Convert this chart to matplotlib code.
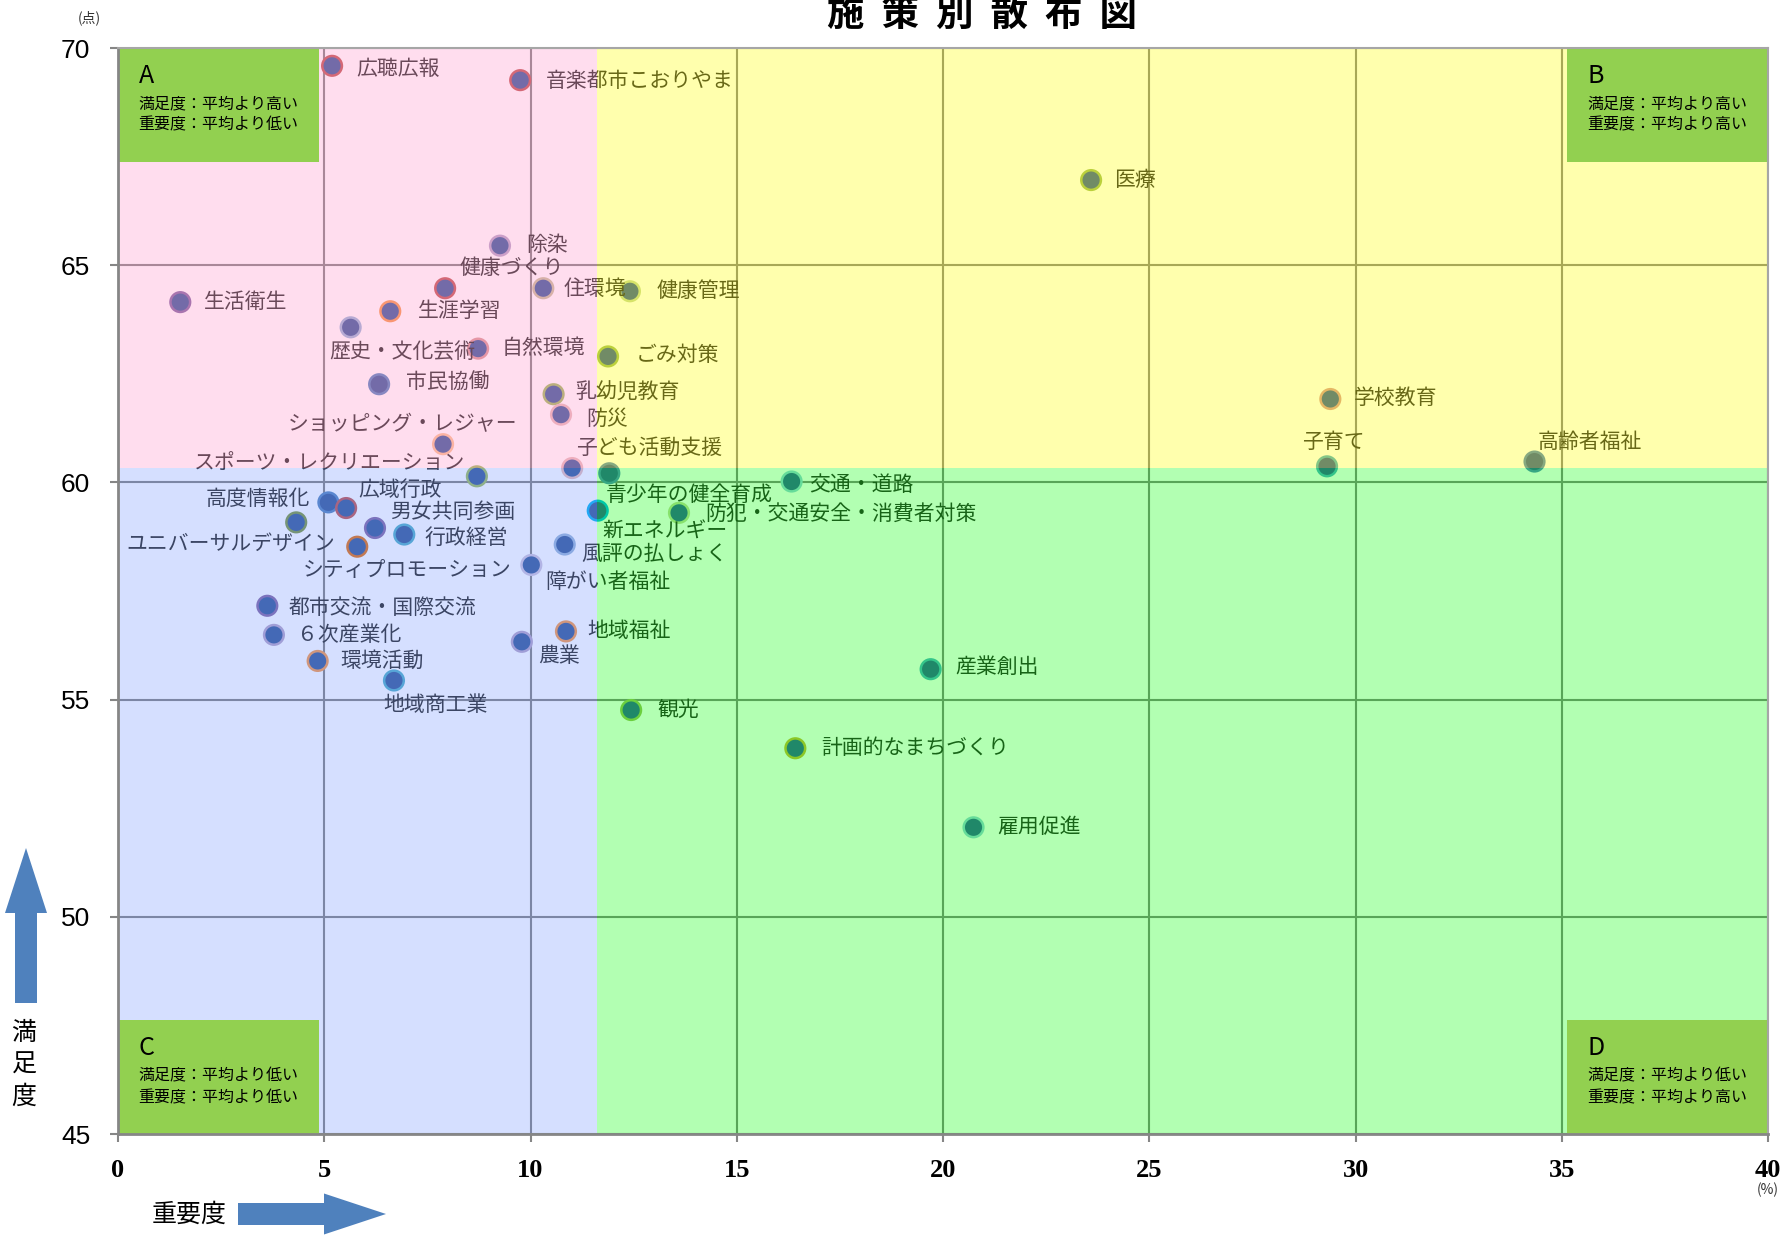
import matplotlib
matplotlib.use('Agg')
import matplotlib.pyplot as plt
from matplotlib.patches import Rectangle, FancyArrow
from matplotlib import font_manager

plt.rcParams['font.family'] = ['Noto Sans CJK JP', 'DejaVu Sans']

# 施策名・重要度(%)・満足度(点)
names = ['広聴広報', '音楽都市こおりやま', '医療', '除染', '健康づくり', '住環境', '健康管理',
         '生活衛生', '生涯学習', '歴史・文化芸術', '自然環境', 'ごみ対策', '市民協働', '乳幼児教育',
         '防災', 'ショッピング・レジャー', '子ども活動支援', 'スポーツ・レクリエーション',
         '青少年の健全育成', '交通・道路', '高度情報化', '広域行政', 'ユニバーサルデザイン',
         '男女共同参画', '行政経営', 'シティプロモーション', '風評の払しょく', '障がい者福祉',
         '新エネルギー', '防犯・交通安全・消費者対策', '都市交流・国際交流', '６次産業化', '環境活動',
         '地域商工業', '農業', '地域福祉', '産業創出', '観光', '計画的なまちづくり', '雇用促進',
         '学校教育', '子育て', '高齢者福祉']
importance = [5.19, 9.75, 23.59, 9.26, 7.93, 10.31, 12.41,
              1.51, 6.60, 5.64, 8.73, 11.88, 6.33, 10.56,
              10.74, 7.88, 11.01, 8.70,
              11.91, 16.33, 5.10, 5.53, 4.32,
              6.23, 6.94, 5.80, 10.83, 10.02,
              11.63, 13.60, 3.62, 3.78, 4.84,
              6.69, 9.79, 10.86, 19.70, 12.44, 16.42, 20.74,
              29.39, 29.31, 34.34]
satisfaction = [69.59, 69.26, 66.96, 65.45, 64.47, 64.47, 64.40,
                64.15, 63.94, 63.57, 63.08, 62.90, 62.26, 62.03,
                61.56, 60.88, 60.33, 60.14,
                60.21, 60.02, 59.54, 59.41, 59.08,
                58.95, 58.80, 58.52, 58.57, 58.10,
                59.35, 59.30, 57.16, 56.49, 55.89,
                55.44, 56.33, 56.57, 55.70, 54.76, 53.88, 52.06,
                61.92, 60.37, 60.48]

mean_imp = 11.6   # 重要度の平均
mean_sat = 60.33  # 満足度の平均

x_ticks = [0, 5, 10, 15, 20, 25, 30, 35, 40]
y_ticks = [45, 50, 55, 60, 65, 70]

quad_titles = ['A', 'B', 'C', 'D']
quad_notes = ['満足度：平均より高い\n重要度：平均より低い',
              '満足度：平均より高い\n重要度：平均より高い',
              '満足度：平均より低い\n重要度：平均より低い',
              '満足度：平均より低い\n重要度：平均より高い']

# マーカー枠の色
edge_colors = ['#C0504D', '#C0504D', '#9BBB59', '#B3A2C7', '#C0504D', '#C4BD97', '#C3D69B',
               '#8064A2', '#F79646', '#95B3D7', '#DA9694', '#9BBB59', '#4F81BD', '#9BBB59',
               '#E6B9B8', '#FAC090', '#E6B9B8', '#9BBB59',
               '#4F81BD', '#93CDDD', '#4F81BD', '#C0504D', '#77933C',
               '#8064A2', '#4BACC6', '#E46C0A', '#95B3D7', '#CCC1DA',
               '#00B0F0', '#C3D69B', '#8064A2', '#B3A2C7', '#F79646',
               '#4BACC6', '#B3A2C7', '#F79646', '#4BACC6', '#9BBB59', '#C9B037', '#93CDDD',
               '#D99694', '#4BACC6', '#4F81BD']

# ラベル位置 (px, 揃え)
label_pos = [(24, -3, 'left'), (26, -1, 'left'), (23, 0, 'left'), (26, 1, 'left'),
             (67, 20, 'center'), (20, -1, 'left'), (27, 0, 'left'),
             (24, 0, 'left'), (28, 0, 'left'), (52, -25, 'center'), (24, 1, 'left'),
             (28, 1, 'left'), (27, 2, 'left'), (22, 1, 'left'),
             (25, -4, 'left'), (-40, 20, 'center'), (4, 20, 'left'), (-12, 12, 'right'),
             (-4, -22, 'left'), (18, -3, 'left'), (-18, 3, 'right'), (12, 18, 'left'),
             (-65, -21, 'center'),
             (15, 16, 'left'), (20, -3, 'left'), (50, -23, 'center'), (17, -9, 'left'),
             (14, -17, 'left'),
             (5, -21, 'left'), (26, -1, 'left'), (21, -2, 'left'), (23, 0, 'left'),
             (23, 0, 'left'),
             (42, -24, 'center'), (16, -14, 'left'), (21, 0, 'left'), (25, 2, 'left'),
             (26, 0, 'left'), (26, 0, 'left'), (24, 0, 'left'),
             (23, 1, 'left'), (6, 24, 'center'), (3, 20, 'left')]


def pick_font(name, fallback='DejaVu Sans'):
    try:
        font_manager.findfont(name, fallback_to_default=False)
        return name
    except Exception:
        return fallback


narrow = pick_font('Liberation Sans Narrow', 'Liberation Sans')
serif = pick_font('Liberation Serif', 'DejaVu Serif')

W, H = 1786, 1235
fig = plt.figure(figsize=(W / 100, H / 100), dpi=100)
ax = fig.add_axes([118 / W, 1 - 1134 / H, 1650 / W, 1086 / H])
ax.set_xlim(0, 40)
ax.set_ylim(45, 70)

# グリッド
ax.set_xticks(x_ticks)
ax.set_yticks(y_ticks)
ax.grid(True, color='#7F7F7F', linewidth=1.5, zorder=0.5)
ax.set_axisbelow(True)

# 散布点
ax.scatter(importance, satisfaction, s=200, c='#2F5597', edgecolors=edge_colors,
           linewidths=1.8, zorder=2)
for i, nm in enumerate(names):
    dx, dy, ha = label_pos[i]
    ax.annotate(nm, (importance[i], satisfaction[i]), xytext=(dx * 0.72, dy * 0.72),
                textcoords='offset points', ha=ha, va='center', fontsize=15,
                color='#222222', zorder=3)

# 象限の半透明背景
ax.add_patch(Rectangle((0, mean_sat), mean_imp, 70 - mean_sat, color='#FF99CC', alpha=0.33,
                       lw=0, zorder=4))
ax.add_patch(Rectangle((mean_imp, mean_sat), 40 - mean_imp, 70 - mean_sat, color='#FFFF00',
                       alpha=0.32, lw=0, zorder=4))
ax.add_patch(Rectangle((0, 45), mean_imp, mean_sat - 45, color='#7698FF', alpha=0.3,
                       lw=0, zorder=4))
ax.add_patch(Rectangle((mean_imp, 45), 40 - mean_imp, mean_sat - 45, color='#00FF00',
                       alpha=0.3, lw=0, zorder=4))

# 象限の説明ボックス
box_xy = [(0, 67.38), (35.12, 67.38), (0, 45), (35.12, 45)]
for (bx, by), t, note in zip(box_xy, quad_titles, quad_notes):
    ax.add_patch(Rectangle((bx, by), 4.88, 2.62, color='#92D050', lw=0, zorder=5))
    ax.text(bx + 0.5, by + 1.97, t, fontsize=18, va='center', ha='left', zorder=6)
    ax.text(bx + 0.5, by + 1.09, note, fontsize=11.5, va='center', ha='left',
            linespacing=1.35, zorder=6)

# 軸
for side in ['left', 'bottom']:
    ax.spines[side].set_color('#868686')
    ax.spines[side].set_linewidth(2)
for side in ['top', 'right']:
    ax.spines[side].set_color('#A6A6A6')
    ax.spines[side].set_linewidth(1.5)
for sp in ax.spines.values():
    sp.set_zorder(10)
ax.tick_params(axis='both', length=6, width=1.5, color='#868686', direction='out')
ax.tick_params(axis='y', pad=14)
ax.tick_params(axis='x', pad=12)
for lb in ax.get_yticklabels():
    lb.set_fontfamily(narrow)
    lb.set_fontsize(19)
for lb in ax.get_xticklabels():
    lb.set_fontfamily(serif)
    lb.set_fontsize(19)
    lb.set_fontweight('bold')

# タイトル・単位
fig.text(982 / W, 1 - 14 / H, '施  策  別  散  布  図', fontsize=27, fontweight='bold',
         ha='center', va='center')
fig.text(89 / W, 1 - 18 / H, '(点)', fontsize=10, ha='center', va='center', color='#333333')
fig.text(1768 / W, 1 - 1190 / H, '(%)', fontsize=10, ha='center', va='center', color='#333333')

# 軸ラベルと矢印
fig.text(24 / W, 1 - 1065 / H, '満\n足\n度', fontsize=18, ha='center', va='center',
         linespacing=1.28)
fig.text(189 / W, 1 - 1215 / H, '重要度', fontsize=18, ha='center', va='center')
fig.add_artist(FancyArrow(0.26, 2.32, 0, 1.55, width=0.22, head_width=0.42, head_length=0.65,
                          length_includes_head=True, color='#4F81BD', lw=0,
                          transform=fig.dpi_scale_trans))
fig.add_artist(FancyArrow(2.38, 0.21, 1.48, 0, width=0.22, head_width=0.41, head_length=0.62,
                          length_includes_head=True, color='#4F81BD', lw=0,
                          transform=fig.dpi_scale_trans))

fig.savefig('out.png', dpi=100)
